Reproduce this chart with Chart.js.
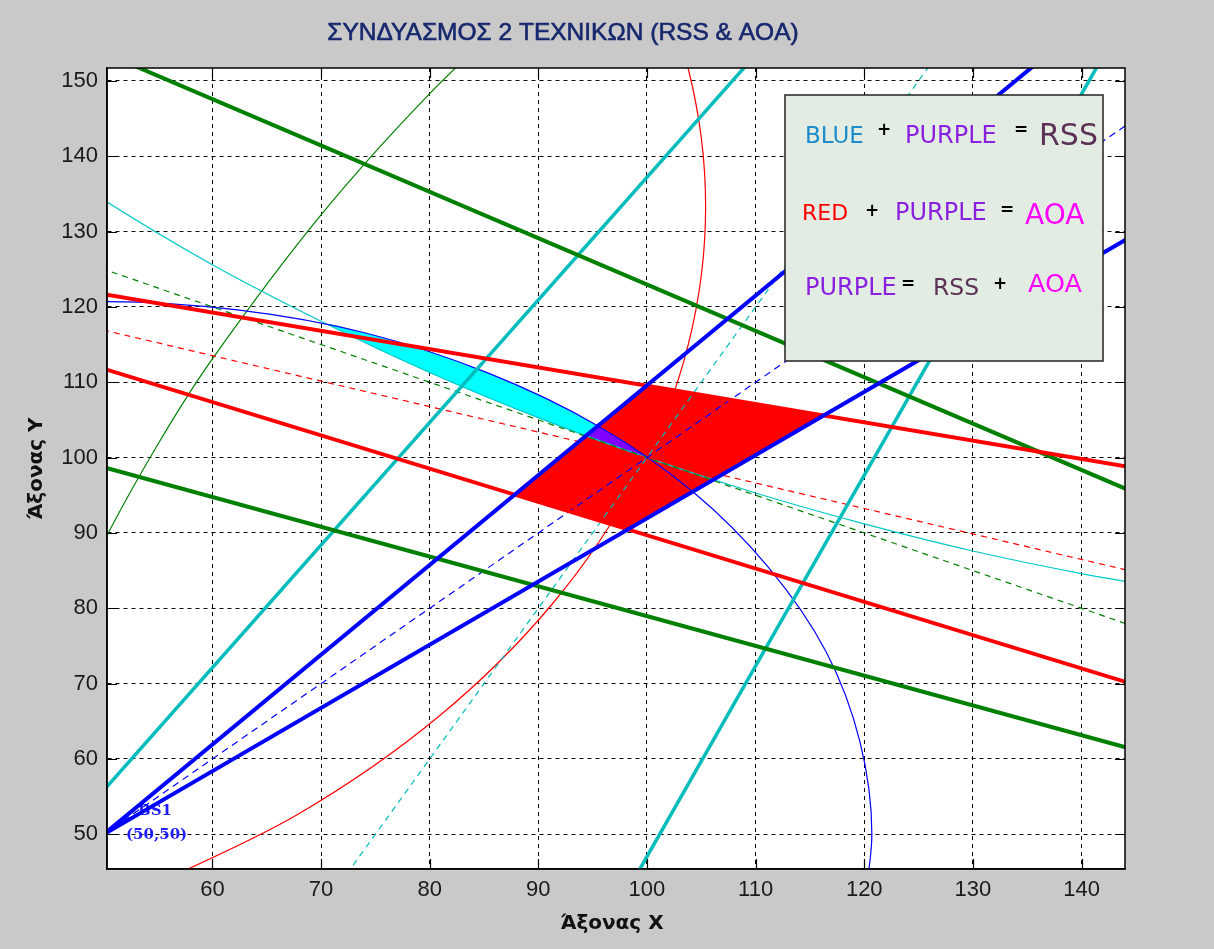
<!DOCTYPE html>
<html>
<head>
<meta charset="utf-8">
<script src="https://cdn.jsdelivr.net/npm/chart.js@4.4.0/dist/chart.umd.min.js"></script>
<style>
  body { margin: 0; background: #c9c9c9; }
  #wrap { position: relative; width: 1214px; height: 949px; }
</style>
</head>
<body>
<div id="wrap"><canvas id="chart"></canvas></div>
<script>
// tick labels
const xTicks = [60, 70, 80, 90, 100, 110, 120, 130, 140];
const yTicks = [50, 60, 70, 80, 90, 100, 110, 120, 130, 140, 150];

// BS1 (50,50): blue = RSS circle + bearing lines
const blueEdgeHigh = [[50, 50], [145, 163.2]];
const blueEdgeLow = [[50, 50], [145, 129.7]];
const blueBearing = [[50, 50], [145, 145]];
const blueCircle = [[37.7, 119.6], [50.0, 120.7], [62.3, 119.6], [74.2, 116.5], [85.4, 111.2], [95.5, 104.2],
  [104.2, 95.5], [111.2, 85.4], [116.5, 74.2], [119.6, 62.3], [120.7, 50.0], [119.6, 37.7]];

// red lines
const redEdgeHigh = [[45, 122.9], [150, 97.4]];
const redEdgeLow = [[45, 114.0], [150, 67.6]];
const redBearing = [[45, 118.6], [150, 83.1]];
const redCircle = [[52.7, 42.0], [67.8, 52.6], [80.8, 65.6], [91.3, 80.6], [99.1, 97.3], [103.8, 115.0],
  [105.4, 133.3], [103.8, 151.6], [99.1, 169.4]];

// cyan lines
const cyanEdgeLeft = [[45, 47.7], [115, 161.6]];
const cyanEdgeRight = [[95, 34.4], [145, 160.9]];
const cyanBearing = [[70, 40], [130, 160]];
const cyanCircle = [[40, 143.8], [50, 134.2], [60, 125.6], [70, 118.1], [80, 111.3], [90, 105.3], [100, 100],
  [110, 95.3], [120, 91.2], [130, 87.6], [140, 84.6], [150, 82.1]];

// green lines
const greenEdgeHigh = [[45, 156.8], [150, 92.2]];
const greenEdgeLow = [[45, 100.7], [150, 59.2]];
const greenBearing = [[45, 127.5], [150, 75]];
const greenCircle = [[45, 73.2], [50, 88.8], [55, 101.8], [60, 113.1], [70, 132.2], [80, 148.3], [90, 162.1]];

// filled regions
const aoaRegion = [[99.97, 109.57], [116.28, 105.61], [98.24, 90.48], [87.82, 95.08]];
const rssLens = [[70.6, 117.7], [75, 116.1], [80, 114.0], [85, 111.4], [90, 108.3], [95, 104.5], [97.5, 102.4], [100, 100],
  [97.5, 101.3], [95, 102.6], [90, 105.3], [85, 108.2], [80, 111.3], [75, 114.6]];
const bothRegion = [[94.4, 102.9], [95.4, 104.2], [97.5, 102.4], [100, 100], [97.5, 101.3], [95, 102.6]];

const BLUE = '#0000ff', RED = '#ff0000', GREEN = '#008000', TEAL = '#00bcbc';

function pts(a) { return a.map(([x, y]) => ({ x, y })); }

function line(data, color, width, dash, tension) {
  return { data: pts(data), borderColor: color, borderWidth: width, borderDash: dash || [],
    pointRadius: 0, fill: false, tension: tension || 0, clip: 0, order: 1 };
}

function area(data, color, order) {
  return { data: pts(data), borderColor: color, backgroundColor: color, borderWidth: 1,
    pointRadius: 0, fill: 'shape', tension: 0, clip: 0, order: order };
}

const frame = {
  id: 'frame',
  beforeDraw(chart) {
    const { ctx, chartArea: a } = chart;
    ctx.save();
    ctx.fillStyle = '#ffffff';
    ctx.fillRect(a.left, a.top, a.right - a.left, a.bottom - a.top);
    ctx.restore();
  },
  beforeDatasetsDraw(chart) {
    const { ctx, chartArea: a } = chart;
    ctx.save();
    ctx.fillStyle = '#2020ff';
    ctx.font = 'bold 15px "DejaVu Serif"';
    ctx.textBaseline = 'alphabetic';
    ctx.fillText('BS1', a.left + 31, a.bottom - 54);
    ctx.fillText('(50,50)', a.left + 19, a.bottom - 30);
    ctx.restore();
  },
  afterDatasetsDraw(chart) {
    const { ctx, chartArea: a, scales } = chart;
    ctx.save();
    ctx.strokeStyle = '#000';
    ctx.lineWidth = 1.5;
    ctx.strokeRect(a.left, a.top, a.right - a.left, a.bottom - a.top);
    ctx.beginPath();
    xTicks.forEach(v => {
      const x = Math.round(scales.x.getPixelForValue(v)) + 0.5;
      ctx.moveTo(x, a.bottom); ctx.lineTo(x, a.bottom - 10);
      ctx.moveTo(x, a.top); ctx.lineTo(x, a.top + 10);
    });
    yTicks.forEach(v => {
      const y = Math.round(scales.y.getPixelForValue(v)) + 0.5;
      ctx.moveTo(a.left, y); ctx.lineTo(a.left + 10, y);
      ctx.moveTo(a.right, y); ctx.lineTo(a.right - 10, y);
    });
    ctx.lineWidth = 1.2;
    ctx.stroke();

    // legend box
    ctx.fillStyle = '#e3ece3';
    ctx.fillRect(785, 95, 318, 266);
    ctx.strokeStyle = '#222';
    ctx.lineWidth = 1.5;
    ctx.strokeRect(785, 95, 318, 266);

    const txt = (s, x, y, font, color, align, base) => {
      ctx.font = font;
      ctx.fillStyle = color;
      ctx.textAlign = align || 'left';
      ctx.textBaseline = base || 'alphabetic';
      ctx.fillText(s, x, y);
    };
    const PUR = '#8a1fe0', RSS = '#5b3256', AOA = '#ff00ff';
    const sym = 'bold 17px "DejaVu Sans"';
    txt('BLUE', 805, 143, '23px "DejaVu Sans"', '#1c8ccc');
    txt('+', 884, 131, sym, '#000', 'center', 'middle');
    txt('PURPLE', 905, 143, '24px "DejaVu Sans"', PUR);
    txt('=', 1021, 131, sym, '#000', 'center', 'middle');
    txt('RSS', 1039, 145, '30px "DejaVu Sans"', RSS);

    txt('RED', 802, 220, '22px "DejaVu Sans"', RED);
    txt('+', 872, 212, sym, '#000', 'center', 'middle');
    txt('PURPLE', 895, 220, '24px "DejaVu Sans"', PUR);
    txt('=', 1007, 211, sym, '#000', 'center', 'middle');
    txt('AOA', 1025, 224, '28px "DejaVu Sans"', AOA);

    txt('PURPLE', 805, 295, '24px "DejaVu Sans"', PUR);
    txt('=', 908, 285, sym, '#000', 'center', 'middle');
    txt('RSS', 933, 295, '23.5px "DejaVu Sans"', RSS);
    txt('+', 1000, 285, sym, '#000', 'center', 'middle');
    txt('AOA', 1028, 292, '25.5px "DejaVu Sans"', AOA);
    ctx.restore();
  },
  afterDraw(chart) {
    const { ctx, chartArea: a } = chart;
    ctx.save();
    ctx.fillStyle = '#17286e';
    ctx.strokeStyle = '#17286e';
    ctx.lineWidth = 0.6;
    ctx.font = '24.5px "Liberation Sans"';
    ctx.textAlign = 'center';
    ctx.textBaseline = 'alphabetic';
    ctx.fillText('ΣΥΝΔΥΑΣΜΟΣ 2 ΤΕΧΝΙΚΩΝ (RSS & AOA)', 563, 40);
    ctx.strokeText('ΣΥΝΔΥΑΣΜΟΣ 2 ΤΕΧΝΙΚΩΝ (RSS & AOA)', 563, 40);

    ctx.fillStyle = '#111';
    ctx.font = 'bold 20px "DejaVu Sans"';
    ctx.fillText('Άξονας Χ', (a.left + a.right) / 2 - 4, 929);
    ctx.translate(42, (a.top + a.bottom) / 2);
    ctx.rotate(-Math.PI / 2);
    ctx.fillText('Άξονας Υ', 0, 0);
    ctx.restore();
  }
};

new Chart(document.getElementById('chart'), {
  type: 'line',
  data: {
    datasets: [
      line(blueEdgeHigh, BLUE, 4),
      line(blueEdgeLow, BLUE, 4),
      line(redEdgeHigh, RED, 4),
      line(redEdgeLow, RED, 4),
      line(greenEdgeHigh, GREEN, 4),
      line(greenEdgeLow, GREEN, 4),
      line(cyanEdgeLeft, TEAL, 3.5),
      line(cyanEdgeRight, TEAL, 3.5),
      line(blueBearing, BLUE, 1.2, [7, 5]),
      line(redBearing, RED, 1.2, [6, 5]),
      line(greenBearing, GREEN, 1.2, [6, 5]),
      line(cyanBearing, TEAL, 1.2, [6, 5]),
      line(blueCircle, BLUE, 1.2, null, 0.33),
      line(redCircle, RED, 1.2, null, 0.33),
      line(cyanCircle, '#00c8c8', 1.2, null, 0.33),
      line(greenCircle, GREEN, 1.2, null, 0.33),
      area(bothRegion, '#7f00ff', 3),
      area(aoaRegion, RED, 4),
      area(rssLens, '#00ffff', 5)
    ]
  },
  options: {
    responsive: true,
    maintainAspectRatio: false,
    animation: false,
    devicePixelRatio: 1,
    layout: { padding: { left: 0, top: 68, right: 89, bottom: 0 } },
    plugins: { legend: { display: false }, tooltip: { enabled: false }, title: { display: false } },
    scales: {
      x: {
        type: 'linear', min: 50.3, max: 144,
        afterBuildTicks: s => { s.ticks = xTicks.map(v => ({ value: v })); },
        afterFit: s => { s.height = 80; },
        ticks: { color: '#1a1a1a', font: { family: 'Liberation Sans', size: 22 }, padding: 8, maxRotation: 0, autoSkip: false },
        grid: { color: '#000', lineWidth: 1, drawTicks: false },
        border: { color: '#000', width: 1.5, dash: [4, 4] }
      },
      y: {
        type: 'linear', min: 45.4, max: 151.7,
        afterBuildTicks: s => { s.ticks = yTicks.map(v => ({ value: v })); },
        afterFit: s => { s.width = 107; },
        ticks: { color: '#1a1a1a', font: { family: 'Liberation Sans', size: 22 }, padding: 9, autoSkip: false },
        grid: { color: '#000', lineWidth: 1, drawTicks: false },
        border: { color: '#000', width: 1.5, dash: [4, 4] }
      }
    }
  },
  plugins: [frame]
});
</script>
</body>
</html>
